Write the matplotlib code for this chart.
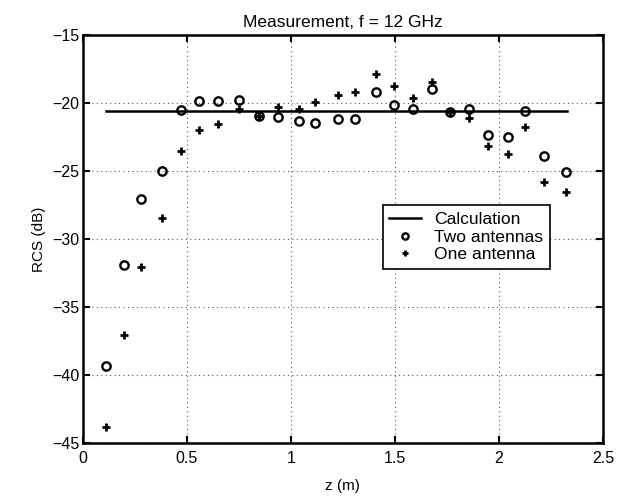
import matplotlib
matplotlib.use("Agg")
import matplotlib.pyplot as plt

# Measurement positions (m) and RCS values (dB)
z = [0.111, 0.200, 0.280, 0.383, 0.471, 0.561, 0.650, 0.750, 0.849, 0.940,
     1.040, 1.118, 1.226, 1.308, 1.409, 1.498, 1.588, 1.678, 1.767, 1.857,
     1.947, 2.046, 2.126, 2.216, 2.324]
two_antennas = [-39.34, -31.89, -27.08, -25.00, -20.50, -19.83, -19.88, -19.80,
                -20.93, -21.00, -21.35, -21.50, -21.20, -21.15, -19.19, -20.17,
                -20.47, -18.97, -20.64, -20.42, -22.35, -22.50, -20.59, -23.90,
                -25.05]
one_antenna = [-43.80, -37.04, -32.06, -28.43, -23.50, -22.00, -21.55, -20.47,
               -20.93, -20.27, -20.42, -19.90, -19.39, -19.19, -17.87, -18.78,
               -19.63, -18.46, -20.64, -21.08, -23.19, -23.78, -21.79, -25.83,
               -26.57]
calc_z = [0.111, 2.327]
calc_rcs = [-20.61, -20.61]

plt.rcParams["font.family"] = ["Liberation Sans", "DejaVu Sans"]

fig = plt.figure(figsize=(6.26, 4.97), dpi=100)
ax = fig.add_axes([0.132, 0.1087, 0.831, 0.821])

ax.plot(calc_z, calc_rcs, color="black", linewidth=1.8, label="Calculation")
ax.plot(z, two_antennas, linestyle="none", marker="o", markersize=6,
        markerfacecolor="none", markeredgecolor="black", markeredgewidth=1.7,
        label="Two antennas")
ax.plot(z, one_antenna, linestyle="none", marker="+", markersize=5.5,
        color="black", markeredgewidth=2.0, label="One antenna")

ax.set_xlim(0, 2.5)
ax.set_ylim(-45, -15)
ax.set_xticks([0, 0.5, 1, 1.5, 2, 2.5])
ax.set_xticklabels(["0", "0.5", "1", "1.5", "2", "2.5"])
ax.set_yticks([-45, -40, -35, -30, -25, -20, -15])

ax.grid(True, linestyle=(0, (1, 3)), color="#555555", linewidth=0.8)
ax.set_axisbelow(True)
ax.tick_params(direction="in", top=True, right=True, length=5, width=1.5,
               labelsize=11.5)
ax.tick_params(axis="x", pad=6)
ax.tick_params(axis="y", pad=2.5)
for s in ax.spines.values():
    s.set_linewidth(1.8)

ax.set_xlabel("z (m)", fontsize=11, labelpad=9)
ax.set_ylabel("RCS (dB)", fontsize=11, labelpad=4)
ax.set_title("Measurement, f = 12 GHz", fontsize=12.5, pad=5.5)

leg = ax.legend(loc="upper left", bbox_to_anchor=(0.577, 0.583),
                frameon=True, fancybox=False, edgecolor="black",
                framealpha=1, borderpad=0.38, labelspacing=0.14,
                handlelength=1.8, handletextpad=0.75, borderaxespad=0,
                markerscale=0.75, fontsize=12.6)
leg.get_frame().set_linewidth(1.2)

fig.savefig("out.png", dpi=100, facecolor="white")
